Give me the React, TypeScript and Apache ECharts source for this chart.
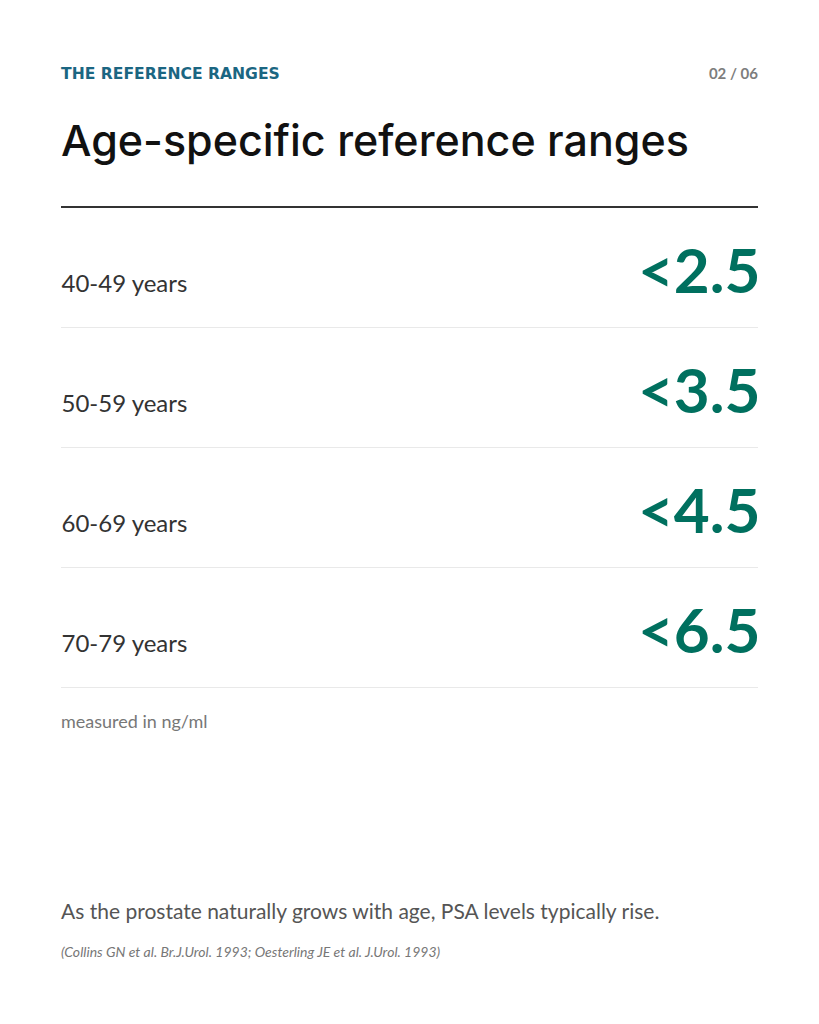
import React, { useEffect, useRef } from "react";
import * as echarts from "echarts";

const ageGroups = ["40-49 years", "50-59 years", "60-69 years", "70-79 years"];
const psaUpper = [2.5, 3.5, 4.5, 6.5];
const kicker = "THE REFERENCE RANGES";
const pageNo = "02 / 06";
const heading = "Age-specific reference ranges";
const unitNote = "measured in ng/ml";
const summary = "As the prostate naturally grows with age, PSA levels typically rise.";
const citation = "(Collins GN et al. Br.J.Urol. 1993; Oesterling JE et al. J.Urol. 1993)";

export default function App() {
  const ref = useRef<HTMLDivElement>(null);
  useEffect(() => {
    if (!ref.current) return;
    const chart = echarts.init(ref.current, undefined, { renderer: "svg" });
    chart.setOption({
      animation: false,
      backgroundColor: "#ffffff",
      grid: { left: 61, right: 61, top: 207, height: 480 },
      xAxis: { type: "value", min: 0, max: 1, show: false },
      yAxis: {
        type: "category",
        inverse: true,
        data: ageGroups,
        axisLine: { show: false },
        axisTick: { show: false },
        axisLabel: { show: false },
        splitLine: { show: true, lineStyle: { color: "#e9e9e9", width: 1 } },
      },
      series: [
        {
          type: "scatter",
          silent: true,
          symbolSize: 1,
          itemStyle: { color: "transparent", opacity: 1 },
          data: ageGroups.map((a) => [0, a]),
          label: {
            show: true,
            position: "right",
            distance: 0,
            offset: [0, 15],
            opacity: 1,
            formatter: (p: any) => p.value[1],
            fontFamily: "Lato",
            fontSize: 24,
            color: "#333333",
          },
        },
        {
          type: "scatter",
          silent: true,
          symbolSize: 1,
          itemStyle: { color: "transparent", opacity: 1 },
          data: ageGroups.map((a) => [1, a]),
          label: {
            show: true,
            position: "left",
            distance: 0,
            offset: [3, 2],
            opacity: 1,
            formatter: (p: any) => "<" + psaUpper[p.dataIndex].toFixed(1),
            fontFamily: "Lato",
            fontWeight: "bold",
            fontSize: 62,
            color: "#00705f",
          },
        },
      ],
      graphic: [
        {
          type: "text",
          x: 61,
          y: 74,
          style: {
            text: kicker,
            font: "bold 15.6px DejaVu Sans",
            fill: "#1b6682",
            textAlign: "left",
            textVerticalAlign: "middle",
          },
        },
        {
          type: "text",
          x: 758,
          y: 73,
          style: {
            text: pageNo,
            font: "bold 15px Lato",
            fill: "#7d7d7d",
            textAlign: "right",
            textVerticalAlign: "middle",
          },
        },
        {
          type: "text",
          x: 61,
          y: 140,
          style: {
            text: heading,
            font: "500 43px Inter",
            fill: "#111111",
            textAlign: "left",
            textVerticalAlign: "middle",
          },
        },
        {
          type: "line",
          z: 10,
          shape: { x1: 61, y1: 207, x2: 758, y2: 207 },
          style: { stroke: "#333333", lineWidth: 2 },
        },
        {
          type: "text",
          x: 61,
          y: 721,
          style: {
            text: unitNote,
            font: "18px Lato",
            fill: "#777777",
            textAlign: "left",
            textVerticalAlign: "middle",
          },
        },
        {
          type: "text",
          x: 61,
          y: 910,
          style: {
            text: summary,
            font: "21px Lato",
            fill: "#555555",
            textAlign: "left",
            textVerticalAlign: "middle",
          },
        },
        {
          type: "text",
          x: 61,
          y: 951,
          style: {
            text: citation,
            font: "italic 14px Lato",
            fill: "#777777",
            textAlign: "left",
            textVerticalAlign: "middle",
          },
        },
      ],
    });
    return () => chart.dispose();
  }, []);
  return (
    <div
      ref={ref}
      style={{ position: "absolute", left: 0, top: 0, width: 819, height: 1024 }}
    />
  );
}
